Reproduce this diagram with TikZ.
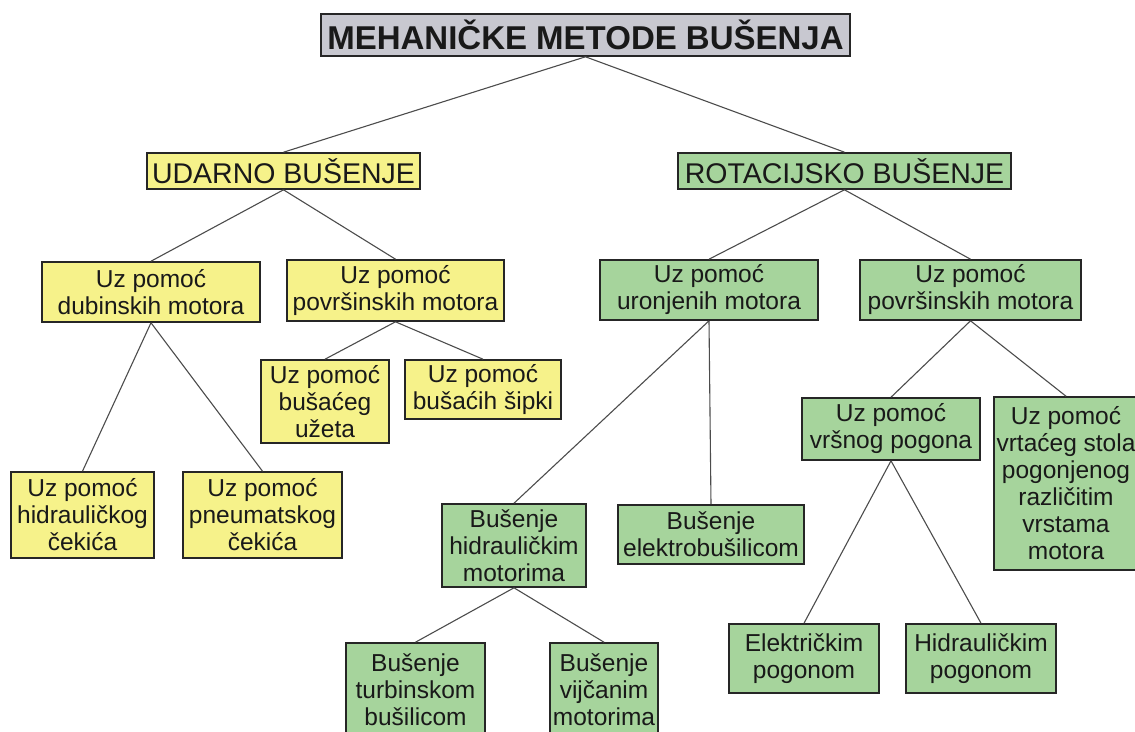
\documentclass[tikz,border=0pt]{standalone}
\usepackage{fontspec}
\setmainfont{Liberation Sans}
\usepackage{tikz}

\definecolor{yfill}{RGB}{246,242,138}
\definecolor{gfill}{RGB}{166,212,156}
\definecolor{tfill}{RGB}{200,200,208}

\begin{document}
\begin{tikzpicture}[x=1pt,y=-1pt,
    bx/.style={draw=black!85,line width=1.6pt,text=black!90,align=center,inner sep=1pt,
      font=\fontsize{24.5}{27}\selectfont},
    yb/.style={bx,fill=yfill},
    gb/.style={bx,fill=gfill},
    wh/.style 2 args={minimum width=#1pt,minimum height=#2pt},
    every edge/.style={draw=black!70,line width=1.1pt}]
    \useasboundingbox (0,0) rectangle (1135,731);
    \node[bx,fill=tfill,wh={529}{42},font=\bfseries\fontsize{33}{36}\selectfont] (t) at (585.5,35) {MEHANIČKE METODE BUŠENJA};
    \node[yb,wh={273}{36},font=\fontsize{28.5}{30}\selectfont] (u) at (283.5,171) {UDARNO BUŠENJE};
    \node[gb,wh={333}{36},font=\fontsize{28.5}{30}\selectfont] (r) at (844.5,171) {ROTACIJSKO BUŠENJE};
    % udarno
    \node[yb,wh={218}{60}] (ud) at (151,292) {Uz pomoć\\dubinskih motora};
    \node[yb,wh={217}{61}] (up) at (395.5,290.5) {Uz pomoć\\površinskih motora};
    \node[yb,wh={143}{86}] (udh) at (82.5,515) {Uz pomoć\\hidrauličkog\\čekića};
    \node[yb,wh={159}{86}] (udp) at (262.5,515) {Uz pomoć\\pneumatskog\\čekića};
    \node[yb,wh={128}{83}] (upu) at (325,401.5) {Uz pomoć\\bušaćeg\\užeta};
    \node[yb,wh={156}{59}] (ups) at (483,389.5) {Uz pomoć\\bušaćih šipki};
    % rotacijsko
    \node[gb,wh={218}{60}] (ru) at (709,290) {Uz pomoć\\uronjenih motora};
    \node[gb,wh={221}{60}] (rp) at (970.5,290) {Uz pomoć\\površinskih motora};
    \node[gb,wh={144}{83}] (ruh) at (514,545.5) {Bušenje\\hidrauličkim\\motorima};
    \node[gb,wh={186}{59}] (rue) at (711,534.5) {Bušenje\\elektrobušilicom};
    \node[gb,wh={139}{94}] (ruht) at (415.5,690) {Bušenje\\turbinskom\\bušilicom};
    \node[gb,wh={108}{94}] (ruhv) at (604,690) {Bušenje\\vijčanim\\motorima};
    \node[gb,wh={178}{62}] (rpv) at (891,429) {Uz pomoć\\vršnog pogona};
    \node[gb,wh={144}{173}] (rps) at (1066,483.5) {Uz pomoć\\vrtaćeg stola\\pogonjenog\\različitim\\vrstama\\motora};
    \node[gb,wh={150}{69}] (rpve) at (804,658.5) {Električkim\\pogonom};
    \node[gb,wh={150}{69}] (rpvh) at (981,658.5) {Hidrauličkim\\pogonom};

    \path (t.south) edge (u.north) edge (r.north);
    \path (u.south) edge (ud.north) edge (up.north);
    \path (ud.south) edge (udh.north) edge (udp.north);
    \path (up.south) edge (upu.north) edge (ups.north);
    \path (r.south) edge (ru.north) edge (rp.north);
    \path (ru.south) edge (ruh.north) edge (rue.north);
    \path (ruh.south) edge (ruht.north) edge (ruhv.north);
    \path (rp.south) edge (rpv.north) edge (rps.north);
    \path (rpv.south) edge (rpve.north) edge (rpvh.north);
\end{tikzpicture}
\end{document}
